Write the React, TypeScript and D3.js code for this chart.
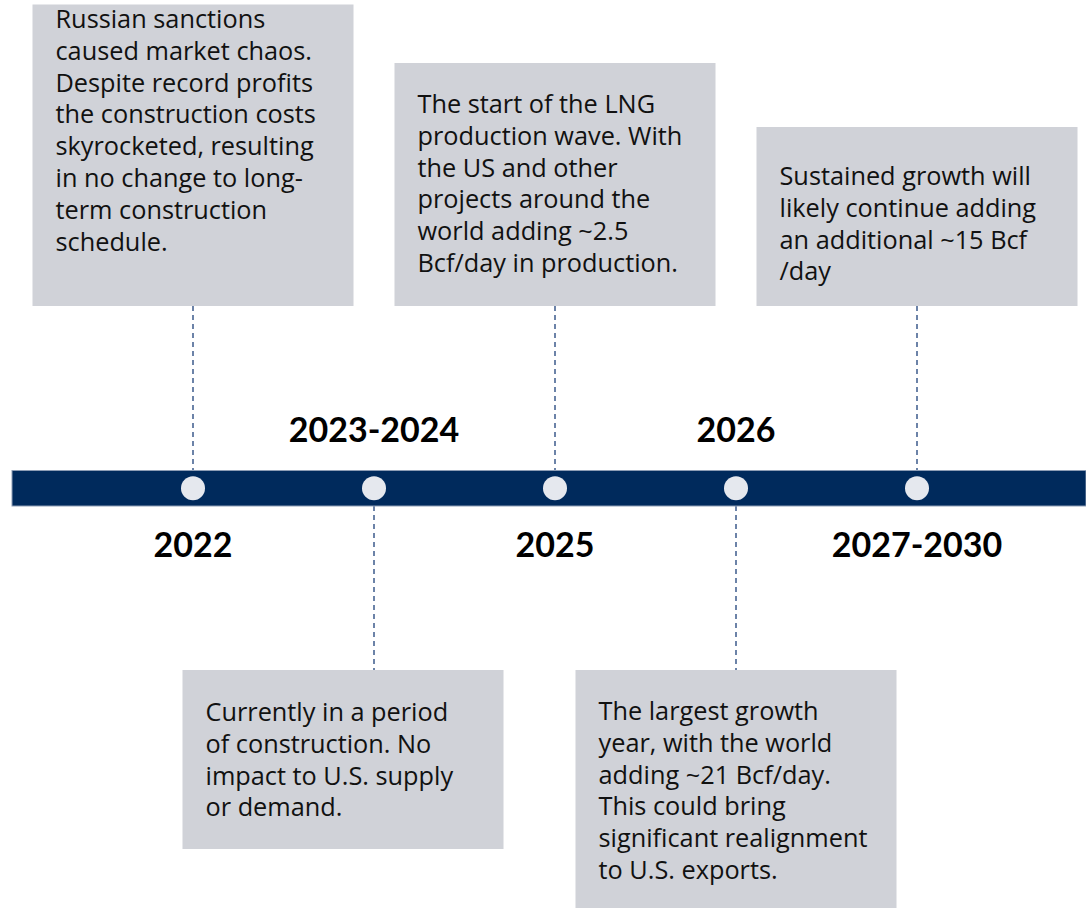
import { scalePoint } from "d3";

// timeline data
const years = ["2022", "2023-2024", "2025", "2026", "2027-2030"];
const sides = ["top", "bottom", "top", "bottom", "top"];
const labelSides = ["below", "above", "below", "above", "below"];
const notes: string[][] = [
  [
    "Russian sanctions",
    "caused market chaos.",
    "Despite record profits",
    "the construction costs",
    "skyrocketed, resulting",
    "in no change to long-",
    "term construction",
    "schedule.",
  ],
  [
    "Currently in a period",
    "of construction. No",
    "impact to U.S. supply",
    "or demand.",
  ],
  [
    "The start of the LNG",
    "production wave. With",
    "the US and other",
    "projects around the",
    "world adding ~2.5",
    "Bcf/day in production.",
  ],
  [
    "The largest growth",
    "year, with the world",
    "adding ~21 Bcf/day.",
    "This could bring",
    "significant realignment",
    "to U.S. exports.",
  ],
  [
    "Sustained growth will",
    "likely continue adding",
    "an additional ~15 Bcf",
    "/day",
  ],
];

// layout
const W = 1086;
const H = 908;
const barTop = 470.5;
const barH = 35.5;
const barMid = barTop + barH / 2;
const boxW = 321;
const lineH = 31.8;
const bodyFont = "'Open Sans', 'Noto Sans', sans-serif";
const labelFont = "Lato, 'Noto Sans', sans-serif";
// box top, box bottom, horizontal shift, first baseline offset
const boxTops = [4.5, 670, 63, 670, 127];
const boxBottoms = [306, 849, 306, 930, 306];
const boxShift = [0, -31, 0, 0, 0];
const textTop = [23.5, 51, 50, 50, 58];
const textPad = 23;

const x = scalePoint<string>().domain(years).range([193, 917]);

export default function App() {
  return (
    <svg
      width={W}
      height={H}
      style={{ position: "absolute", left: 0, top: 0, background: "#fff" }}
    >
      {years.map((y, i) => {
        const cx = x(y)!;
        const bx = cx - boxW / 2 + boxShift[i];
        const top = sides[i] === "top";
        return (
          <g key={y}>
            <rect
              x={bx}
              y={boxTops[i]}
              width={boxW}
              height={boxBottoms[i] - boxTops[i]}
              fill="#d0d2d8"
            />
            {notes[i].map((t, j) => (
              <text
                key={j}
                x={bx + textPad}
                y={boxTops[i] + textTop[i] + j * lineH}
                fontFamily={bodyFont}
                fontSize={25.3}
                fill="#111"
              >
                {t}
              </text>
            ))}
            <line
              x1={cx}
              x2={cx}
              y1={top ? boxBottoms[i] : barTop + barH}
              y2={top ? barTop : boxTops[i]}
              stroke="#3d5b8c"
              strokeWidth={1.5}
              strokeDasharray="5,4"
            />
          </g>
        );
      })}
      <rect
        x={12}
        y={barTop}
        width={W - 12}
        height={barH}
        fill="#002a5c"
        stroke="#8d9db5"
        strokeWidth={1}
      />
      {years.map((y) => (
        <circle key={y} cx={x(y)!} cy={barMid} r={12} fill="#e5e8ee" />
      ))}
      {years.map((y, i) => (
        <text
          key={y}
          x={x(y)!}
          y={labelSides[i] === "above" ? 442 : 557}
          textAnchor="middle"
          fontFamily={labelFont}
          fontWeight="bold"
          fontSize={34}
          fill="#000"
        >
          {y}
        </text>
      ))}
    </svg>
  );
}
